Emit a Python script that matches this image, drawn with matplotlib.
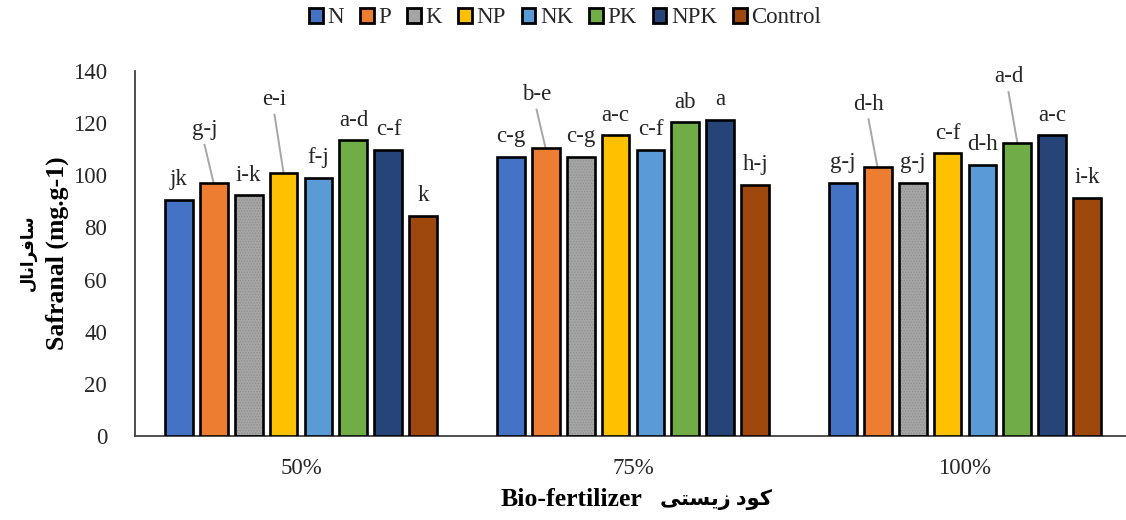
import matplotlib
matplotlib.use("Agg")
import matplotlib.pyplot as plt
from matplotlib.patches import Patch
import numpy as np

# Data
groups = ["50%", "75%", "100%"]
treatments = ["N", "P", "K", "NP", "NK", "PK", "NPK", "Control"]

safranal = {
    "N":       [90.5, 106.9, 97.2],
    "P":       [97.2, 110.5, 103.0],
    "K":       [92.3, 106.9, 97.2],
    "NP":      [101.0, 115.3, 108.4],
    "NK":      [99.1, 109.6, 104.0],
    "PK":      [113.4, 120.3, 112.2],
    "NPK":     [109.7, 121.2, 115.3],
    "Control": [84.4, 96.2, 91.3],
}

letters = {
    "N":       ["jk", "c-g", "g-j"],
    "P":       ["g-j", "b-e", "d-h"],
    "K":       ["i-k", "c-g", "g-j"],
    "NP":      ["e-i", "a-c", "c-f"],
    "NK":      ["f-j", "c-f", "d-h"],
    "PK":      ["a-d", "ab", "a-d"],
    "NPK":     ["c-f", "a", "a-c"],
    "Control": ["k", "h-j", "i-k"],
}

colors = ["#4472C4", "#ED7D31", "#A5A5A5", "#FFC000",
          "#5B9BD5", "#70AD47", "#264478", "#9E480E"]

# labels that sit higher with a leader line: (treatment, group) -> label height
leader_y = {("P", 0): 117.5, ("NP", 0): 129.0, ("P", 1): 131.0,
            ("P", 2): 127.3, ("PK", 2): 137.7}

# persian text in presentation forms, visual order
y_fa = "\uFEDD\uFE8E\uFEE7\uFE8D\uFEAE\uFED3\uFE8E\uFEB3"
x_fa = "\uFBFD\uFE98\uFEB4\uFBFE\uFEAF \uFEA9\uFEEE\uFB90"

plt.rcParams["font.family"] = ["Liberation Serif", "DejaVu Sans"]
plt.rcParams["hatch.linewidth"] = 0.6

fig = plt.figure(figsize=(11.26, 5.2), dpi=100)
ax = fig.add_axes([135 / 1126, 84 / 520, 996 / 1126, 365 / 520])

x = np.arange(len(groups))
step = 0.1054
width = 0.0843
txt_col = "#262626"
fs = 16.5

for i, t in enumerate(treatments):
    pos = x + (i - 3.5) * step
    vals = safranal[t]
    if t == "K":
        ax.bar(pos, vals, width, color=colors[i], hatch="......",
               edgecolor="#8f8f8f", linewidth=0, zorder=2)
        ax.bar(pos, vals, width, fill=False, edgecolor="black",
               linewidth=1.9, zorder=3)
    else:
        ax.bar(pos, vals, width, color=colors[i], edgecolor="black",
               linewidth=1.9, zorder=3)
    for g in range(len(groups)):
        lab = letters[t][g]
        if (t, g) in leader_y:
            ty = leader_y[(t, g)]
            tx = pos[g] - 0.027
            ax.text(tx, ty, lab, ha="center", va="center",
                    fontsize=fs, color=txt_col)
            ax.plot([tx, pos[g]], [ty - 5.8, vals[g]],
                    color="#a6a6a6", lw=1.4, zorder=1)
        else:
            ax.text(pos[g], vals[g] + 7.8, lab, ha="center", va="center",
                    fontsize=fs, color=txt_col)

ax.set_xlim(-0.5, 2.5)
ax.set_ylim(0, 140)
ax.set_yticks(range(0, 141, 20))
ax.set_xticks(x)
ax.set_xticklabels(groups)
ax.tick_params(axis="both", length=0, labelsize=fs, colors=txt_col)
ax.tick_params(axis="x", pad=16)
ax.tick_params(axis="y", pad=20)
for s in ["top", "right"]:
    ax.spines[s].set_visible(False)
for s in ["left", "bottom"]:
    ax.spines[s].set_color("#404040")
    ax.spines[s].set_linewidth(1.3)

# axis titles
fig.text(28 / 1126, 1 - 253 / 520, y_fa, rotation=90, ha="center", va="center",
         fontsize=12, fontweight="bold")
fig.text(57 / 1126, 1 - 253 / 520, "Safranal (mg.g-1)", rotation=90,
         ha="center", va="center", fontsize=18.5, fontweight="bold")
fig.text(642 / 1126, 1 - 500 / 520, "Bio-fertilizer", ha="right", va="center",
         fontsize=18.5, fontweight="bold")
fig.text(660 / 1126, 1 - 500 / 520, x_fa, ha="left", va="center",
         fontsize=15, fontweight="bold")

handles = [Patch(facecolor=c, edgecolor="black", linewidth=2.0) for c in colors]
fig.legend(handles, treatments, loc="center", ncol=8,
           bbox_to_anchor=(565 / 1126, 1 - 18 / 520), frameon=False,
           fontsize=fs, handlelength=0.6, handleheight=0.6,
           handletextpad=0.2, columnspacing=0.7, labelcolor=txt_col)

fig.savefig("out.png", dpi=100)
